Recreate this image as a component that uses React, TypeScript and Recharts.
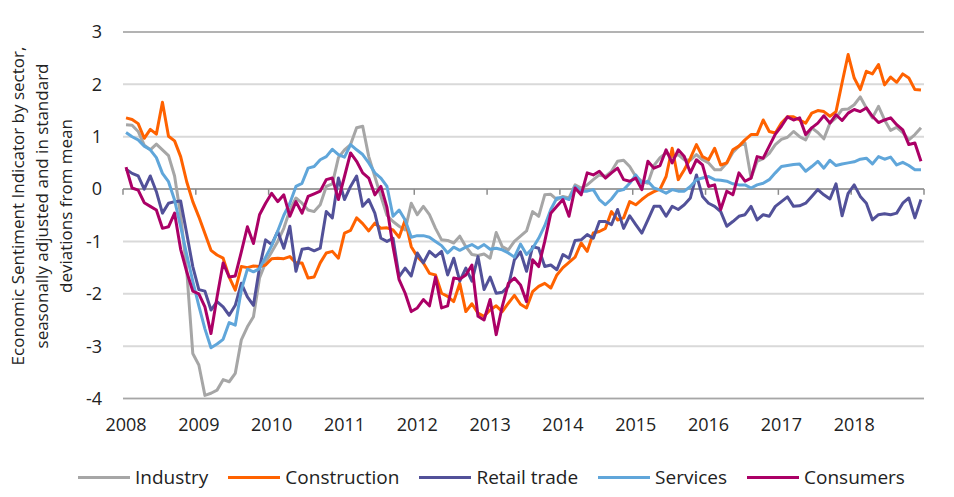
import React from 'react';
import { LineChart, Line, XAxis, YAxis, CartesianGrid, ReferenceLine } from 'recharts';

// Monthly readings, Jan 2008 .. Dec 2018
const years = ['2008', '2009', '2010', '2011', '2012', '2013', '2014', '2015', '2016', '2017', '2018'];

const industry = [
  1.23, 1.22, 1.1, 0.84, 0.75, 0.86, 0.75, 0.64, 0.25, -0.5,
  -1.55, -3.14, -3.36, -3.94, -3.9, -3.84, -3.64, -3.68, -3.52, -2.88,
  -2.63, -2.44, -1.7, -1.4, -1.2, -1.0, -0.75, -0.4, -0.17, -0.27,
  -0.4, -0.43, -0.3, 0.05, 0.1, 0.6, 0.75, 0.85, 1.17, 1.2,
  0.62, 0.24, -0.14, -0.5, -0.62, -0.71, -0.78, -0.27, -0.49, -0.33,
  -0.49, -0.75, -0.97, -0.98, -1.03, -0.9, -1.1, -1.25, -1.27, -1.24,
  -1.32, -0.83, -1.1, -1.16, -1.0, -0.9, -0.8, -0.43, -0.52, -0.11,
  -0.1, -0.2, -0.14, -0.17, 0.08, 0.02, 0.08, 0.18, 0.27, 0.24,
  0.34, 0.53, 0.55, 0.43, 0.24, 0.15, 0.11, 0.45, 0.6, 0.69,
  0.62, 0.66, 0.56, 0.55, 0.66, 0.56, 0.5, 0.37, 0.37, 0.5,
  0.7, 0.82, 0.88, 0.21, 0.53, 0.58, 0.68, 0.85, 0.95, 0.99,
  1.1, 1.0, 0.94, 1.17, 1.08, 0.96, 1.26, 1.36, 1.52, 1.53,
  1.61, 1.76, 1.55, 1.36, 1.58, 1.32, 1.12, 1.18, 1.08, 0.94,
  1.04, 1.17,
];

const construction = [
  1.36, 1.33, 1.25, 0.97, 1.14, 1.05, 1.66, 1.01, 0.92, 0.62,
  0.14, -0.24, -0.53, -0.85, -1.17, -1.26, -1.32, -1.68, -1.93, -1.48,
  -1.5, -1.47, -1.48, -1.45, -1.33, -1.32, -1.33, -1.29, -1.41, -1.41,
  -1.7, -1.68, -1.41, -1.22, -1.19, -1.32, -0.84, -0.79, -0.55, -0.66,
  -0.8, -0.65, -0.75, -0.74, -0.78, -0.92, -0.59, -1.1, -1.29, -1.41,
  -1.61, -1.64, -1.99, -2.05, -2.15, -1.8, -2.34, -2.19, -2.37, -2.43,
  -2.31, -2.23, -2.34, -2.18, -2.03, -2.2, -2.27, -1.96, -1.86, -1.8,
  -1.89, -1.64, -1.5, -1.4, -1.3, -1.03, -1.19, -0.84, -0.81, -0.75,
  -0.43, -0.59, -0.55, -0.24, -0.3, -0.2, -0.11, -0.05, 0.0, 0.24,
  0.78, 0.18, 0.37, 0.59, 0.85, 0.62, 0.56, 0.78, 0.46, 0.5,
  0.75, 0.82, 0.94, 1.04, 1.04, 1.32, 1.1, 1.07, 1.26, 1.38,
  1.38, 1.32, 1.26, 1.45, 1.5, 1.48, 1.39, 1.48, 2.03, 2.57,
  2.12, 1.9, 2.25, 2.2, 2.38, 1.99, 2.14, 2.04, 2.2, 2.12,
  1.9, 1.89,
];

const retail = [
  0.38, 0.3, 0.25, 0.0, 0.25, -0.05, -0.46, -0.27, -0.24, -0.23,
  -0.85, -1.48, -1.92, -1.95, -2.31, -2.15, -2.25, -2.41, -2.22, -1.8,
  -2.06, -2.22, -1.5, -0.97, -1.06, -0.81, -1.13, -0.71, -1.57, -1.15,
  -1.13, -1.18, -1.13, -0.43, -0.55, 0.21, -0.2, 0.05, 0.25, -0.33,
  -0.2, -0.46, -0.94, -1.0, -0.94, -1.67, -1.51, -1.66, -1.22, -1.41,
  -1.19, -1.29, -1.19, -1.64, -1.32, -1.76, -1.51, -1.76, -1.29, -1.92,
  -1.68, -1.99, -1.97, -1.86, -1.35, -1.2, -1.57, -1.1, -1.13, -1.48,
  -1.45, -1.54, -1.25, -1.32, -0.98, -0.97, -0.87, -0.94, -0.62, -0.62,
  -0.68, -0.39, -0.75, -0.51, -0.68, -0.84, -0.59, -0.33, -0.33, -0.52,
  -0.33, -0.39, -0.3, -0.17, 0.27, -0.14, -0.27, -0.33, -0.43, -0.71,
  -0.62, -0.52, -0.49, -0.33, -0.59, -0.49, -0.52, -0.33, -0.24, -0.15,
  -0.33, -0.32, -0.27, -0.14, -0.01, -0.11, -0.19, 0.1, -0.51, -0.08,
  0.08, -0.14, -0.27, -0.59, -0.49, -0.47, -0.49, -0.46, -0.27, -0.17,
  -0.55, -0.2,
];

const services = [
  1.08, 1.0, 0.94, 0.82, 0.75, 0.6, 0.3, 0.14, -0.21, -0.72,
  -1.25, -1.76, -2.23, -2.67, -3.03, -2.96, -2.87, -2.55, -2.6, -1.93,
  -1.53, -1.58, -1.52, -1.3, -1.08, -0.8, -0.5, -0.27, 0.05, 0.11,
  0.4, 0.43, 0.56, 0.62, 0.76, 0.66, 0.61, 0.85, 0.75, 0.66,
  0.5, 0.31, 0.21, 0.05, -0.52, -0.4, -0.59, -0.92, -0.89, -0.89,
  -0.92, -1.0, -1.08, -1.22, -1.11, -1.17, -1.11, -1.06, -1.13, -1.06,
  -1.15, -1.13, -1.16, -1.22, -1.3, -1.05, -1.25, -1.13, -0.94, -0.7,
  -0.39, -0.17, -0.16, -0.2, 0.05, -0.04, -0.04, -0.01, -0.2, -0.3,
  -0.19, -0.04, -0.01, 0.11, 0.27, 0.11, 0.15, 0.02, -0.02, -0.08,
  -0.01, -0.04, -0.04, 0.05, 0.18, 0.21, 0.24, 0.18, 0.17, 0.15,
  0.1, 0.08, 0.08, 0.02, 0.08, 0.11, 0.18, 0.31, 0.43, 0.45,
  0.47, 0.48, 0.34, 0.43, 0.53, 0.4, 0.55, 0.45, 0.48, 0.5,
  0.52, 0.57, 0.59, 0.48, 0.62, 0.57, 0.61, 0.46, 0.51, 0.45,
  0.37, 0.37,
];

const consumers = [
  0.42, 0.02, -0.02, -0.26, -0.33, -0.4, -0.75, -0.72, -0.46, -1.15,
  -1.58, -1.95, -2.0, -2.25, -2.76, -2.06, -1.41, -1.68, -1.66, -1.2,
  -0.72, -1.04, -0.49, -0.27, -0.08, -0.24, -0.11, -0.52, -0.24, -0.46,
  -0.14, -0.09, -0.04, 0.18, 0.21, -0.2, 0.24, 0.69, 0.53, 0.31,
  0.21, -0.11, 0.05, -0.35, -1.1, -1.73, -1.99, -2.34, -2.27, -2.11,
  -2.23, -1.68, -2.27, -2.23, -1.7, -1.72, -1.64, -1.45, -2.43, -2.5,
  -2.11, -2.78, -2.24, -1.8, -1.7, -1.83, -2.15, -1.35, -1.48, -1.0,
  -0.46, -0.33, -0.2, -0.52, 0.02, -0.11, 0.31, 0.27, 0.34, 0.21,
  0.31, 0.4, 0.18, 0.15, 0.21, -0.01, 0.53, 0.4, 0.45, 0.75,
  0.5, 0.75, 0.62, 0.31, 0.56, 0.46, 0.05, 0.08, -0.39, -0.04,
  -0.11, 0.31, 0.15, 0.21, 0.62, 0.59, 0.82, 1.05, 1.2, 1.38,
  1.32, 1.36, 1.04, 1.17, 1.26, 1.4, 1.26, 1.42, 1.31, 1.45,
  1.52, 1.48, 1.55, 1.39, 1.27, 1.32, 1.36, 1.23, 1.13, 0.85,
  0.88, 0.53,
];

const yTicks = [-4, -3, -2, -1, 0, 1, 2, 3];

const series = [
  { key: 'industry', name: 'Industry', color: '#a6a6a6' },
  { key: 'construction', name: 'Construction', color: '#ff6200' },
  { key: 'retail', name: 'Retail trade', color: '#525199' },
  { key: 'services', name: 'Services', color: '#60a6da' },
  { key: 'consumers', name: 'Consumers', color: '#ab0066' },
];

const rows = industry.map((_, i) => ({
  i,
  industry: industry[i],
  construction: construction[i],
  retail: retail[i],
  services: services[i],
  consumers: consumers[i],
}));

// one label per January, tick marks between December and January
const yearTicks = years.map((_, k) => k * 12);
const yearBounds = [...years.map((_, k) => k * 12 - 0.5), rows.length - 0.5];

const font = '"Open Sans", "DejaVu Sans", sans-serif';
const textColor = '#222';

export default function App() {
  return (
    <div style={{ position: 'relative', width: 946, height: 489, fontFamily: font, color: textColor }}>
      <LineChart width={946} height={489} data={rows} margin={{ top: 24, right: 30, bottom: 68.5, left: 55 }}>
        <CartesianGrid vertical={false} stroke="#d9d9d9" strokeWidth={2} />
        <XAxis
          type="number"
          dataKey="i"
          domain={[-0.5, rows.length - 0.5]}
          ticks={yearTicks}
          interval={0}
          tickFormatter={(v) => years[Math.round(v / 12)]}
          axisLine={false}
          tickLine={false}
          height={30}
          tickMargin={14}
          tick={{ fontSize: 18, fill: textColor, fontFamily: font }}
        />
        <YAxis
          domain={[-4, 3]}
          ticks={yTicks}
          interval={0}
          axisLine={false}
          tickLine={false}
          width={60}
          tickMargin={15}
          tick={{ fontSize: 18, fill: textColor, fontFamily: font }}
        />
        <ReferenceLine y={3} stroke="#a6a6a6" strokeWidth={1.5} />
        <ReferenceLine y={-4} stroke="#a6a6a6" strokeWidth={1.5} />
        <ReferenceLine y={0} stroke="#8c8c8c" strokeWidth={1.5} />
        {yearBounds.map((b) => (
          <ReferenceLine
            key={b}
            segment={[{ x: b, y: 0 }, { x: b, y: -0.11 }]}
            stroke="#8c8c8c"
            strokeWidth={1.5}
          />
        ))}
        {series.map((s) => (
          <Line
            key={s.key}
            type="linear"
            dataKey={s.key}
            name={s.name}
            stroke={s.color}
            strokeWidth={3}
            strokeLinejoin="round"
            dot={false}
            activeDot={false}
            isAnimationActive={false}
          />
        ))}
      </LineChart>

      <svg
        width={100}
        height={489}
        style={{ position: 'absolute', left: 0, top: 0, pointerEvents: 'none', overflow: 'visible' }}
      >
        {[
          'Economic Sentiment Indicator by sector,',
          'seasonally adjusted and in standard',
          'deviations from mean',
        ].map((line, n) => (
          <text
            key={n}
            transform="rotate(-90)"
            x={-198}
            y={16 + n * 24}
            textAnchor="middle"
            fontSize={17}
            fill={textColor}
            fontFamily={font}
          >
            {line}
          </text>
        ))}
      </svg>

      <div
        style={{
          position: 'absolute',
          left: 70,
          top: 456,
          display: 'flex',
          alignItems: 'center',
          gap: 20,
          fontSize: 19,
          whiteSpace: 'nowrap',
        }}
      >
        {series.map((s) => (
          <div key={s.key} style={{ display: 'flex', alignItems: 'center' }}>
            <span style={{ display: 'inline-block', width: 52, height: 3, background: s.color, marginRight: 5 }} />
            <span>{s.name}</span>
          </div>
        ))}
      </div>
    </div>
  );
}
